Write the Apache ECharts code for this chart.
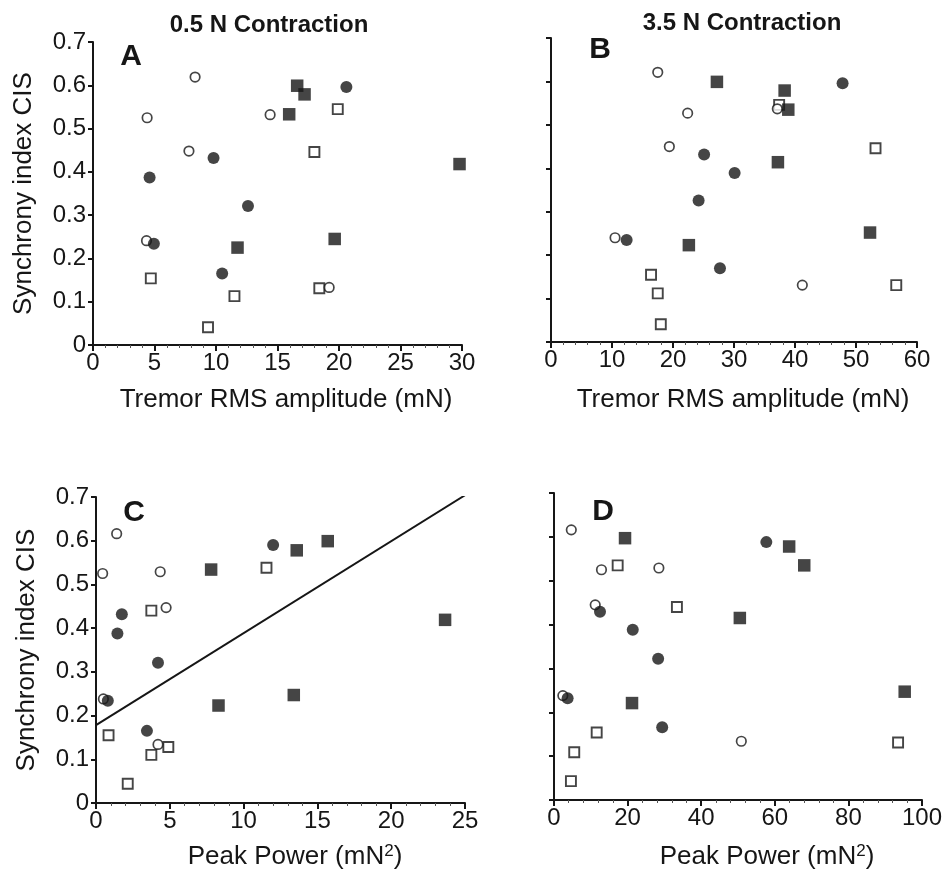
<!DOCTYPE html>
<html><head><meta charset="utf-8">
<script src="https://cdn.jsdelivr.net/npm/echarts@6/dist/echarts.min.js"></script>
<style>html,body{margin:0;padding:0;background:#fff}#c{width:946px;height:877px}</style>
</head><body><div id="c"></div>
<script>
// ---- Data (x, CIS) ----
// Panel A: 0.5 N, Tremor RMS amplitude (mN)
const A_openCircle  = [[4.4,0.525],[8.3,0.619],[7.8,0.448],[14.4,0.532],[4.35,0.241],[19.2,0.133]];
const A_fillCircle  = [[20.6,0.596],[9.8,0.432],[4.6,0.387],[12.6,0.321],[4.95,0.234],[10.5,0.165]];
const A_openSquare  = [[19.9,0.545],[18.0,0.446],[4.7,0.154],[11.5,0.113],[18.4,0.131],[9.35,0.041]];
const A_fillSquare  = [[16.6,0.599],[17.2,0.579],[15.95,0.533],[29.8,0.418],[19.65,0.245],[11.75,0.225]];
// Panel B: 3.5 N, Tremor RMS amplitude (mN)
const B_openCircle  = [[17.5,0.621],[22.4,0.527],[19.4,0.450],[37.1,0.537],[10.5,0.240],[41.2,0.131]];
const B_fillCircle  = [[47.8,0.596],[25.1,0.432],[30.1,0.389],[24.2,0.326],[12.4,0.235],[27.7,0.170]];
const B_openSquare  = [[37.4,0.546],[53.2,0.446],[16.4,0.155],[17.5,0.112],[18.0,0.041],[56.6,0.131]];
const B_fillSquare  = [[27.2,0.599],[38.3,0.579],[38.9,0.535],[37.2,0.414],[52.3,0.252],[22.6,0.223]];
// Panel C: 0.5 N, Peak Power (mN^2)
const C_openCircle  = [[1.4,0.616],[0.45,0.525],[4.35,0.529],[4.75,0.447],[0.5,0.238],[4.2,0.134]];
const C_fillCircle  = [[12.0,0.590],[1.75,0.432],[1.45,0.388],[4.2,0.321],[0.8,0.234],[3.45,0.165]];
const C_openSquare  = [[11.55,0.538],[3.75,0.440],[0.85,0.155],[3.75,0.110],[4.9,0.128],[2.15,0.044]];
const C_fillSquare  = [[15.7,0.599],[13.6,0.578],[7.8,0.534],[23.65,0.419],[13.4,0.247],[8.3,0.223]];
const C_regression  = [[0,0.178],[25,0.704]];
// Panel D: 3.5 N, Peak Power (mN^2)
const D_openCircle  = [[4.7,0.616],[12.9,0.525],[28.5,0.529],[11.2,0.445],[2.4,0.238],[50.9,0.134]];
const D_fillCircle  = [[57.7,0.588],[12.5,0.429],[21.4,0.388],[28.3,0.322],[3.7,0.232],[29.4,0.166]];
const D_openSquare  = [[17.3,0.535],[33.4,0.440],[11.6,0.154],[5.5,0.109],[4.6,0.043],[93.5,0.131]];
const D_fillSquare  = [[19.3,0.597],[63.9,0.578],[68.0,0.535],[50.5,0.415],[95.3,0.247],[21.2,0.221]];

const xMaxes = [30, 60, 25, 100];
const xIntervals = [5, 10, 5, 20];

const INK = '#161616';
const FONT = '"Liberation Sans", Arial, Helvetica, sans-serif';

const grids = [
  {left: 93, top: 42, width: 369, height: 303},
  {left: 551, top: 38, width: 366, height: 304},
  {left: 96, top: 497, width: 369, height: 306},
  {left: 554, top: 493, width: 368, height: 307}
];

const chart = echarts.init(document.getElementById('c'), null, {renderer: 'canvas'});

const xAxis = [], yAxis = [], series = [];
for (let i = 0; i < 4; i++) {
  xAxis.push({
    gridIndex: i, type: 'value', min: 0, max: xMaxes[i], interval: xIntervals[i],
    axisLine: {show: true, onZero: false, lineStyle: {color: INK, width: 2}},
    axisTick: {show: true, inside: false, length: 6, lineStyle: {color: INK, width: 2}},
    minorTick: {show: true, splitNumber: 5, length: 3, lineStyle: {color: '#555', width: 1}},
    splitLine: {show: false},
    axisLabel: {color: INK, fontSize: 24, fontFamily: FONT, margin: 6}
  });
  const showLab = (i === 0 || i === 2);
  yAxis.push({
    gridIndex: i, type: 'value', min: 0, max: 0.7, interval: 0.1,
    axisLine: {show: true, onZero: false, lineStyle: {color: INK, width: 2}},
    axisTick: {show: true, inside: false, length: 5, lineStyle: {color: INK, width: 2}},
    splitLine: {show: false},
    axisLabel: {show: showLab, color: INK, fontSize: 24, fontFamily: FONT, margin: 7,
      formatter: v => (Math.round(v * 10) / 10).toString()},
    name: showLab ? 'Synchrony index CIS' : '',
    nameLocation: 'middle', nameGap: 56, nameRotate: 90,
    nameTextStyle: {color: INK, fontSize: 26, fontFamily: FONT}
  });
}

const sets = [
  [A_openCircle, A_fillCircle, A_openSquare, A_fillSquare],
  [B_openCircle, B_fillCircle, B_openSquare, B_fillSquare],
  [C_openCircle, C_fillCircle, C_openSquare, C_fillSquare],
  [D_openCircle, D_fillCircle, D_openSquare, D_fillSquare]
];
const styles = [
  {name: 'open circle', symbol: 'circle', size: 9.5, item: {color: '#fff', borderColor: INK, borderWidth: 1.7}},
  {name: 'filled circle', symbol: 'circle', size: 12, item: {color: INK, borderColor: INK, borderWidth: 0}},
  {name: 'open square', symbol: 'rect', size: 10, item: {color: '#fff', borderColor: INK, borderWidth: 1.9}},
  {name: 'filled square', symbol: 'rect', size: 12.5, item: {color: INK, borderColor: INK, borderWidth: 0}}
];
for (let i = 0; i < 4; i++) {
  const order = [2, 0, 3, 1];
  order.forEach(k => {
    series.push({
      type: 'scatter', name: styles[k].name, xAxisIndex: i, yAxisIndex: i,
      data: sets[i][k], symbol: styles[k].symbol, symbolSize: styles[k].size,
      itemStyle: styles[k].item, emphasis: {disabled: true}, silent: true, z: 3
    });
  });
}
series.push({
  type: 'line', name: 'regression', xAxisIndex: 2, yAxisIndex: 2, data: C_regression,
  symbol: 'none', lineStyle: {color: INK, width: 2}, silent: true, z: 2
});

const titleStyle = {fill: INK, font: 'bold 24px ' + FONT, textAlign: 'center', textVerticalAlign: 'middle'};
const letterStyle = t => ({fill: INK, font: 'bold 30px ' + FONT, text: t, textAlign: 'center', textVerticalAlign: 'middle'});
const axTitle = (t, x, y) => ({type: 'text', x, y, style: {
  text: t, fill: INK, font: '26px ' + FONT, textAlign: 'center', textVerticalAlign: 'middle',
  rich: {sup: {fontSize: 17, verticalAlign: 'top', padding: [0, 0, 12, 0], fill: INK, fontFamily: FONT}}}});

chart.setOption({
  animation: false,
  backgroundColor: '#fff',
  grid: grids.map(g => Object.assign({containLabel: false}, g)),
  xAxis, yAxis, series,
  graphic: [
    {type: 'text', x: 269, y: 25, style: Object.assign({text: '0.5 N Contraction'}, titleStyle)},
    {type: 'text', x: 742, y: 23, style: Object.assign({text: '3.5 N Contraction'}, titleStyle)},
    {type: 'text', x: 131, y: 57, style: letterStyle('A')},
    {type: 'text', x: 600, y: 50, style: letterStyle('B')},
    {type: 'text', x: 134, y: 513, style: letterStyle('C')},
    {type: 'text', x: 603, y: 512, style: letterStyle('D')},
    axTitle('Tremor RMS amplitude (mN)', 286, 400),
    axTitle('Tremor RMS amplitude (mN)', 743, 400),
    axTitle('Peak Power (mN{sup|2})', 295, 857),
    axTitle('Peak Power (mN{sup|2})', 767, 857)
  ]
});
</script></body></html>
